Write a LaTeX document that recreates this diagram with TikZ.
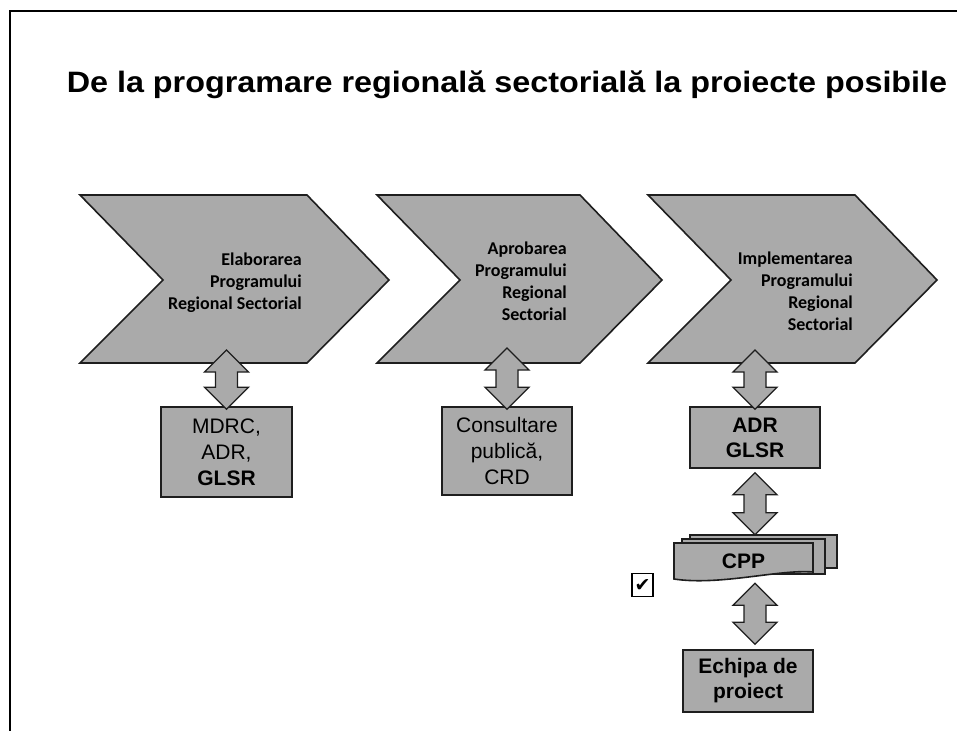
\documentclass[tikz,border=0pt]{standalone}
\usepackage{fontspec}
\setmainfont{Liberation Sans}
\newfontfamily\calibri{Carlito}
\newfontfamily\symb{DejaVu Sans}
\usetikzlibrary{calc, positioning}

\definecolor{scan}{RGB}{170,170,170}
\definecolor{rim}{RGB}{30,30,30}

\tikzset{
    panel/.style={fill=scan, draw=rim, line width=1.6pt, line join=miter},
    title/.style={font=\fontsize{29.5}{34}\selectfont\bfseries, inner sep=0pt},
    stage/.style={font=\calibri\fontsize{18}{22}\selectfont\bfseries, align=right, anchor=east, inner sep=0pt},
    actor/.style={panel, align=center, inner sep=0pt, font=\fontsize{21}{26}\selectfont},
}

% vertical two-headed block arrow between two points
\newcommand\twoway[2]{%
    \draw[panel, line width=1.3pt] let \p1=(#1), \p2=(#2) in
        (\x1,\y1) -- (\x1+22pt,\y1-22pt) -- (\x1+11pt,\y1-22pt)
        -- (\x1+11pt,\y2+22pt) -- (\x1+22pt,\y2+22pt) -- (\x1,\y2)
        -- (\x1-22pt,\y2+22pt) -- (\x1-11pt,\y2+22pt)
        -- (\x1-11pt,\y1-22pt) -- (\x1-22pt,\y1-22pt) -- cycle;
}

\begin{document}
\begin{tikzpicture}[x=1pt, y=-1pt]
    \useasboundingbox (0,0) rectangle (957,731);
    \draw[line width=2pt] (957,11) -- (10,11) -- (10,731);

    \node[title] (head) at (507,85) {\scalebox{1.096}[1]{De la programare regională sectorială la proiecte posibile}};

    % the three stages
    \foreach \l/\r/\n in {80/307/1, 377/580/2, 648/855/3} {
        \draw[panel] (\l,195) -- (\r,195) -- (\r+82,280) -- (\r,363)
            -- (\l,363) -- (\l+83,280) -- cycle;
        \coordinate (ch\n) at (\l,363);
    }
    \node[stage] (t1) at (302,283) {Elaborarea\\Programului\\Regional Sectorial};
    \node[stage] (t2) at (567,281) {Aprobarea\\Programului\\Regional\\Sectorial};
    \node[stage] (t3) at (853,291) {Implementarea\\Programului\\Regional\\Sectorial};

    % actors
    \node[actor, minimum width=131pt, minimum height=90pt] (b1) at (226.5,452)
        {MDRC,\\ADR,\\\textbf{GLSR}};
    \node[actor, minimum width=130pt, minimum height=88pt] (b2) at (507,451)
        {Consultare\\publică,\\CRD};
    \node[actor, minimum width=130pt, minimum height=61pt, font=\fontsize{21}{25}\selectfont\bfseries] (b3) at (755,437.5)
        {ADR\\GLSR};
    \node[actor, minimum width=130pt, minimum height=62pt, font=\fontsize{21}{25}\selectfont\bfseries] (b4) at (748,681)
        {Echipa de\\proiect};

    % stack of project proposals
    \draw[panel] (690,535) rectangle (837,568);
    \draw[panel] (682,539) rectangle (825,574);
    \draw[panel] (674,543) -- (813,543) -- (813,572)
        .. controls (780,569) and (720,586) .. (674,579) -- cycle;
    \node[inner sep=0pt, minimum width=139pt, minimum height=37pt,
        font=\fontsize{21}{25}\selectfont\bfseries] (cpp) at (743.5,561.5) {CPP};
    \node[draw, line width=1.8pt, fill=white, minimum width=21pt, minimum height=23pt, inner sep=0pt,
        font=\symb\fontsize{19}{19}\selectfont] (tick) at (642.5,585) {✔};

    \twoway{$(b1.north |- ch1)+(0,-13)$}{$(b1.north)+(0,3)$}
    \twoway{$(b2.north |- ch2)+(0,-15)$}{$(b2.north)+(0,3)$}
    \twoway{$(b3.north |- ch3)+(0,-13)$}{$(b3.north)+(0,3)$}
    \twoway{$(b3.south)+(0,4)$}{$(b3.south |- cpp.north)+(0,-8)$}
    \twoway{$(b3.south |- cpp.south)+(0,3)$}{$(b3.south |- b4.north)+(0,-5)$}
\end{tikzpicture}
\end{document}
